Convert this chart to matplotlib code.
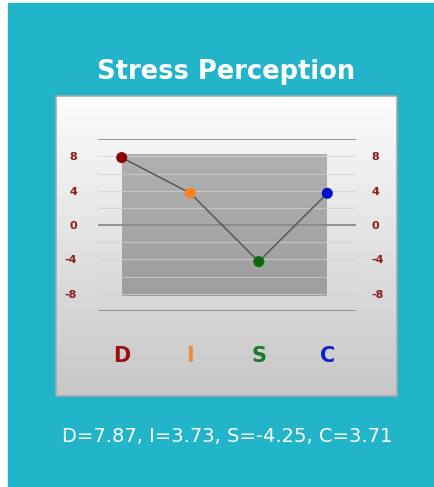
import numpy as np
import matplotlib.pyplot as plt
from matplotlib.patches import Rectangle

plt.rcParams["axes.unicode_minus"] = False

CATEGORIES = ["D", "I", "S", "C"]
SCORES = [7.87, 3.73, -4.25, 3.71]
POINT_COLORS = ["#8b0000", "#ff7f27", "#0a6a0a", "#0010c8"]
LETTER_COLORS = ["#9a1010", "#f08a3a", "#1a7a2a", "#1020c0"]
YTICKS = [-8, -4, 0, 4, 8]
TITLE = "Stress Perception"

W, H = 435, 487
TEAL = "#22b5c9"

fig = plt.figure(figsize=(W / 100, H / 100), dpi=100)
fig.patch.set_facecolor("white")

# background layer in pixel coords (y down)
bg = fig.add_axes([0, 0, 1, 1])
bg.set_xlim(0, W); bg.set_ylim(H, 0); bg.axis("off")
bg.add_patch(Rectangle((8, 3), W - 8, H - 3, color=TEAL, zorder=0))

# panel with vertical gradient
grad = np.linspace(0.99, 0.78, 256).reshape(-1, 1)
bg.imshow(np.dstack([grad, grad, grad]), extent=(56, 397, 396, 96),
          aspect="auto", zorder=1)
bg.add_patch(Rectangle((56, 96), 341, 300, fill=False, ec="#a8a8a8", lw=1.2, zorder=2))

bg.text(226, 72, TITLE, color="white", fontsize=18.5, fontweight="bold",
        ha="center", va="center")
summary = ", ".join(f"{c}={v:.2f}" for c, v in zip(CATEGORIES, SCORES))
bg.text(227, 437, summary, color="white", fontsize=14, ha="center", va="center")

# chart axes
x0, x1, yt, yb = 98, 356, 139.3, 311
ax = fig.add_axes([x0 / W, 1 - yb / H, (x1 - x0) / W, (yb - yt) / H])
ax.patch.set_alpha(0)
for s in ax.spines.values():
    s.set_visible(False)
xs = np.arange(len(CATEGORIES))
ax.set_xlim(-0.346, 3.419)
ax.set_ylim(-10, 10)

# shaded band between first and last category
ax.fill_between([xs[0], xs[-1]], -8.2, 8.25, color="black", alpha=0.27, lw=0, zorder=1)

for v in range(-8, 9, 2):
    if v == 0:
        continue
    ax.axhline(v, color="#d2d2d2", lw=0.8, alpha=0.7, zorder=2)
for v in [-10, 0, 10]:
    ax.axhline(v, color="#8a8a8a", lw=1.3, zorder=2)

ax.plot(xs, SCORES, color="#505050", lw=1.0, zorder=3)
ax.scatter(xs, SCORES, s=48, c=POINT_COLORS, zorder=4)

ax.set_yticks(YTICKS)
ax.tick_params(axis="y", length=0, labelsize=8, labelcolor="#8b1a1a", pad=15)
for lab in ax.get_yticklabels():
    lab.set_fontweight("bold")

# right-hand copy of the scale
ax2 = ax.twinx()
ax2.set_ylim(ax.get_ylim())
ax2.set_yticks(YTICKS)
ax2.tick_params(axis="y", length=0, labelsize=8, labelcolor="#8b1a1a", pad=11)
for lab in ax2.get_yticklabels():
    lab.set_fontweight("bold")
for s in ax2.spines.values():
    s.set_visible(False)

ax.set_xticks(xs)
ax.set_xticklabels(CATEGORIES, fontsize=15, fontweight="bold")
ax.tick_params(axis="x", length=0, pad=25)
for lab, c in zip(ax.get_xticklabels(), LETTER_COLORS):
    lab.set_color(c)

fig.savefig("out.png", dpi=100, facecolor=fig.get_facecolor())
